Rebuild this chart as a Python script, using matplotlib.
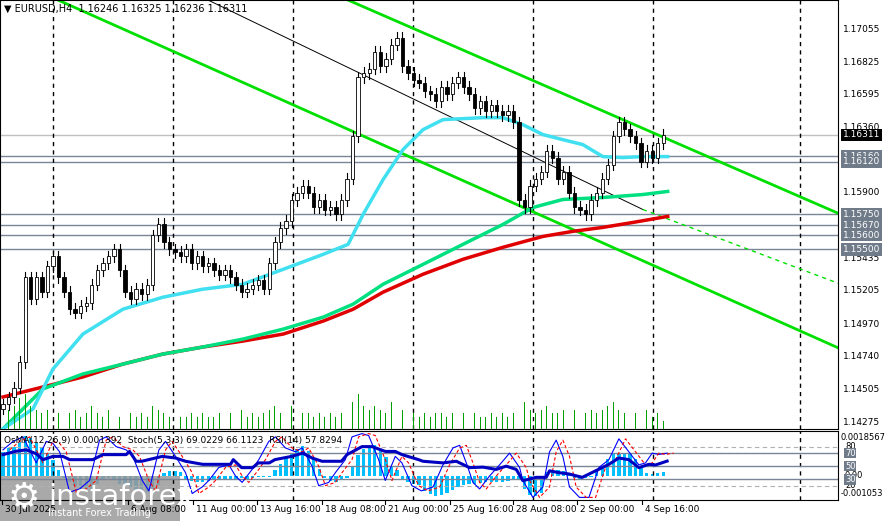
import numpy as np
import matplotlib.pyplot as plt
from matplotlib.patches import Rectangle

# --- dati ---
closes = [
    1.1440, 1.1445, 1.1452, 1.1470, 1.1530, 1.1515, 1.1530, 1.1520, 1.1538, 1.1545,
    1.1530, 1.1520, 1.1508, 1.1505, 1.1510, 1.1512, 1.1525, 1.1535, 1.1540, 1.1545,
    1.1550, 1.1535, 1.1520, 1.1515, 1.1522, 1.1518, 1.1525, 1.1560, 1.1568, 1.1555,
    1.1550, 1.1548, 1.1545, 1.1550, 1.1540, 1.1545, 1.1538, 1.1540, 1.1535, 1.1532,
    1.1535, 1.1530, 1.1525, 1.1520, 1.1522, 1.1525, 1.1528, 1.1522, 1.1540, 1.1555,
    1.1565, 1.1570, 1.1585, 1.1590, 1.1595, 1.1590, 1.1580, 1.1585, 1.1578, 1.1580,
    1.1575, 1.1585, 1.1600, 1.1630, 1.1672, 1.1675, 1.1678, 1.1690, 1.1680, 1.1685,
    1.1695, 1.1700, 1.1680, 1.1675, 1.1670, 1.1668, 1.1662, 1.1660, 1.1655, 1.1665,
    1.1660, 1.1668, 1.1672, 1.1665, 1.1660, 1.1650, 1.1655, 1.1648, 1.1652, 1.1648,
    1.1645, 1.1648, 1.1640, 1.1585, 1.1580, 1.1595, 1.1600, 1.1605, 1.1620, 1.1615,
    1.1600, 1.1605, 1.1590, 1.1580, 1.1578, 1.1575, 1.1585, 1.1590, 1.1600, 1.1610,
    1.1630, 1.1640, 1.1635, 1.1630, 1.1625, 1.1612, 1.1620, 1.1615, 1.1625, 1.1631,
]
volumes = [
    4, 5, 6, 8, 9, 6, 5, 4, 5, 6, 4, 3, 4, 5, 3, 4, 6, 4, 3, 5,
    4, 3, 5, 4, 3, 4, 3, 6, 5, 4, 3, 4, 3, 3, 4, 3, 4, 3, 3, 4,
    3, 4, 3, 5, 3, 4, 3, 4, 5, 6, 4, 5, 6, 5, 4, 4, 3, 4, 3, 4,
    3, 4, 5, 7, 9, 6, 5, 6, 5, 4, 7, 6, 5, 4, 4, 3, 4, 3, 4, 4,
    3, 4, 3, 4, 3, 4, 3, 3, 4, 3, 4, 3, 4, 10, 7, 5, 4, 5, 6, 4,
    4, 5, 4, 5, 4, 4, 5, 4, 5, 6, 7, 5, 4, 5, 4, 4, 5, 3, 4, 2,
]
ma_fast_bars = [0, 5.4, 9, 14.4, 21.6, 28.8, 36, 43.2, 50.5, 57.7, 62.2, 64.9, 68.5, 72.1, 75.7, 79.3, 86.5, 90.1, 93.7, 97.3, 100.9, 104.5, 108.1, 111.7, 115.3, 119.8]
ma_fast_vals = [1.14227, 1.14368, 1.14651, 1.14899, 1.15075, 1.15160, 1.15217, 1.15252, 1.15358, 1.15464, 1.15535, 1.15747, 1.15994, 1.16207, 1.16348, 1.16419, 1.16433, 1.16433, 1.16383, 1.16313, 1.16277, 1.16242, 1.16157, 1.16150, 1.16157, 1.16157]
ma_mid_bars = [0, 7.2, 14.4, 21.6, 28.8, 36, 43.2, 50.5, 57.7, 63.1, 68.5, 75.7, 82.9, 90.1, 95.5, 100.9, 108.1, 115.3, 119.8]
ma_mid_vals = [1.14227, 1.14510, 1.14616, 1.14686, 1.14757, 1.14807, 1.14863, 1.14934, 1.15019, 1.15111, 1.15252, 1.15393, 1.15535, 1.15676, 1.15796, 1.15853, 1.15867, 1.15888, 1.15910]
ma_slow_bars = [0, 7.2, 14.4, 21.6, 28.8, 36, 43.2, 50.5, 57.7, 63.1, 68.5, 75.7, 82.9, 90.1, 97.3, 102.7, 108.1, 113.5, 119.8]
ma_slow_vals = [1.14453, 1.14524, 1.14595, 1.14686, 1.14757, 1.14807, 1.14849, 1.14899, 1.14991, 1.15075, 1.15196, 1.15323, 1.15429, 1.15514, 1.15591, 1.15627, 1.15655, 1.15690, 1.15733]

levels_grey = [1.16160, 1.16120, 1.15750, 1.15670, 1.15600, 1.15500]
last_price = 1.16311
price_ticks = [1.17055, 1.16825, 1.16595, 1.16360, 1.15900, 1.15435, 1.15205, 1.14970, 1.14740, 1.14505, 1.14275]

osma = [
    11.5, 13.4, 13.9, 16.3, 19.2, 18.2, 15.8, 13.9, 11.0, 7.7,
    3.0, -1.0, -3.0, -5.0, -6.5, -7.0, -6.0, -4.0, -2.0, -1.0,
    -2.0, -4.0, -5.0, -5.5, -6.5, -7.5, -7.5, -6.5, -4.5, 1.5,
    2.5, 2.5, 2.0, -1.5, -2.5, -3.0, -3.0, -2.5, -2.0, -2.0,
    -1.5, -2.0, -1.5, -1.0, -1.5, -1.0, -0.5, -0.5, -0.5, 3.0,
    6.0, 9.0, 11.0, 13.0, 14.5, 12.0, 8.0, 3.5, -1.0, -2.5,
    -3.0, -2.0, -1.0, 5.0, 10.0, 13.0, 14.5, 15.0, 13.0, 9.0,
    5.0, 3.0, -1.5, -3.0, -4.0, -4.5, -7.0, -8.5, -9.5, -9.0,
    -8.0, -6.5, -5.5, -4.5, -4.0, -4.0, -3.5, -3.0, -3.0, -3.0,
    -3.0, -2.5, -2.0, -2.0, -6.0, -9.0, -9.5, -8.0, 2.0, 3.0,
    3.0, 2.5, 1.5, -1.0, -1.5, -1.0, -0.5, 2.0, 5.0, 8.0,
    10.5, 11.0, 11.0, 10.5, 8.0, 5.0, 1.5, 1.0, 1.5, 2.0,
]  # unita' 1e-4
stoch_bars = [0, 1.8, 3.6, 6, 7.8, 9, 10.2, 12, 13.8, 15.6, 17.4, 18.6, 20.4, 22.2, 23.4, 25.1,
              26.3, 28.1, 29.3, 31.1, 32.9, 34.1, 35.9, 37.1, 38.9, 40.7, 41.9, 43.1, 44.9, 46.1,
              47.9, 49.1, 50.9, 52.7, 53.9, 55.7, 56.9, 58.7, 59.9, 61.7, 62.9, 64.7, 65.9, 67.7,
              68.9, 70.7, 71.9, 73.7, 75.4,
              77.5, 79.3, 81.1, 82.3, 83.5, 84.7, 85.9, 87.7, 89.5, 91.3, 93.1, 93.7, 95.5, 97.3,
              98.5, 99.7, 100.9, 102.1, 103.9, 105.6, 107.4, 109.2, 111.0, 112.8, 114.6, 115.8,
              117.0, 118.2, 119.7]
stoch_vals = [75, 88, 95, 55, 88, 85, 72, 10, 15, 28, 90, 95, 80, 75, 65, 28, 12, 75, 88, 65,
              40, 8, 18, 28, 48, 52, 35, 25, 45, 60, 88, 95, 78, 72, 78, 50, 20, 25, 40, 60,
              95, 100, 97, 60, 28, 65, 55, 20, 12,
              18, 52, 78, 82, 55, 25, 15, 35, 52, 70, 48, 28, 2, 18, 72, 90, 65, 18, 2, 2, 48,
              60, 92, 72, 52, 55, 70, 68, 70]
rsi_bars = [0, 2.4, 4.2, 6, 7.2, 9, 10.8, 12, 16.2, 18, 22.2, 22.8, 24, 25, 28.7, 31.1, 32.9,
            36, 41, 41.5, 43, 45, 46, 48, 49, 52, 54, 55.7, 57.5, 61, 62, 64.7, 66.5, 68.9,
            70.7, 71.9, 74.9, 75.7, 79.3, 81.7, 84.1, 86.5, 88.9, 90.7, 92.5, 93.7, 96.1, 97.9,
            98.5, 100.2, 102, 104.4, 106.8, 109.2, 111, 112.8, 114.6, 116.4, 117.6, 119.7]
rsi_vals = [67.7, 73, 75, 69, 60, 65, 65, 60, 60, 67.7, 67.7, 72.6, 57.5, 57.5, 65, 62.5, 57.5,
            52.8, 52.8, 60, 47.7, 47.7, 55, 55, 60, 65, 70, 62.5, 57.5, 57.5, 67.7, 80, 80, 72.6,
            72.6, 67.7, 60, 57.5, 55, 57.5, 47.7, 48.5, 45, 50, 45, 27.7, 32.8, 32.8,
            42.8, 40, 38, 32.8, 42.8, 52.8, 62.5, 60, 47.7, 52.8, 51.8, 57.8]

date_ticks = ["30 Jul 2025", "6 Aug 08:00", "11 Aug 00:00", "13 Aug 16:00", "18 Aug 08:00",
              "21 Aug 00:00", "25 Aug 16:00", "28 Aug 08:00", "2 Sep 00:00", "4 Sep 16:00"]

PX = 5.55  # pixel per barra
def b(px):
    return px / PX

fig = plt.figure(figsize=(8.87, 5.21), dpi=100)
W, H = 887, 521
ax = fig.add_axes([0, 1 - 429 / H, 838 / W, 429 / H])
ai = fig.add_axes([0, 1 - 500 / H, 838 / W, 69 / H])
xl = (b(-3), b(838) - 0.5)
ymin, ymax = 1.14226, 1.17267
FS = 6.5

# volumi
av = ax.twinx()
av.bar(np.arange(len(volumes)), volumes, width=0.15, color='#00a000')
av.set_ylim(0, 110)
av.axis('off')

# linee orizzontali
for lv in levels_grey:
    ax.axhline(lv, color='#7a8598', lw=1)
ax.axhline(last_price, color='#c0c0c0', lw=1)

vlines = [50, 170, 290, 410, 530, 650, 797]
for v in vlines:
    ax.axvline(b(v), color='black', ls=(0, (3, 3)), lw=1)
    ai.axvline(b(v), color='black', ls=(0, (3, 3)), lw=1)

# canale
ax.plot([b(345), b(838)], [ymax, 1.15747], color='#00e000', lw=2)
ax.plot([b(55), b(838)], [ymax, 1.14793], color='#00e000', lw=2)
ax.plot([b(205), b(640)], [ymax, 1.15782], color='black', lw=0.7)
ax.plot([b(640), b(838)], [1.15782, 1.15252], color='#00e000', lw=1, ls=(0, (3, 3)))

# medie mobili
ax.plot(ma_slow_bars, ma_slow_vals, color='#e00000', lw=2.5, zorder=3)
ax.plot(ma_mid_bars, ma_mid_vals, color='#00e080', lw=2.5, zorder=3)
ax.plot(ma_fast_bars, ma_fast_vals, color='#40e0f0', lw=2.5, zorder=3)

# candele
opens = [closes[0] - 0.0003] + closes[:-1]
for i, (o, c) in enumerate(zip(opens, closes)):
    hi, lo = max(o, c) + 0.0004, min(o, c) - 0.0004
    ax.plot([i, i], [lo, hi], color='black', lw=0.8, zorder=4)
    bot = min(o, c)
    h = max(abs(c - o), 0.00003)
    ax.add_patch(Rectangle((i - 0.3, bot), 0.6, h, facecolor='white' if c >= o else 'black',
                           edgecolor='black', lw=0.6, zorder=5))

ax.set_xlim(*xl)
ax.set_ylim(ymin, ymax)
ax.set_xticks([]); ax.set_yticks([])
av.set_xlim(*xl)

def fy(p):
    return (p - ymin) / (ymax - ymin) * (429 / H) + 1 - 429 / H

for t in price_ticks:
    fig.text(843 / W, fy(t), f'{t:.5f}', fontsize=FS, va='center', ha='left')
for lv in levels_grey:
    fig.text(843 / W, fy(lv), f'{lv:.5f}', fontsize=FS, va='center', ha='left', color='white',
             bbox=dict(boxstyle='square,pad=0.2', fc='#707b8a', ec='none'))
fig.text(843 / W, fy(last_price), f'{last_price:.5f}', fontsize=FS, va='center', ha='left',
         color='white', bbox=dict(boxstyle='square,pad=0.2', fc='black', ec='none'))
fig.text(4 / W, 1 - 9 / H, '▼ EURUSD,H4  1.16246 1.16325 1.16236 1.16311', fontsize=7, va='center')

# pannello indicatori
ai.set_xlim(*xl)
ai.set_ylim(-2, 104)
for lv in [70, 50, 30]:
    ai.axhline(lv, color='#7a8598', lw=1)
for lv in [80, 20]:
    ai.axhline(lv, color='#b0b0b0', lw=0.8, ls=(0, (4, 3)))
am = ai.twinx()
am.bar(np.arange(len(osma)), osma, width=0.6, color='#00bfff')
am.set_ylim(-11.5, 21.6)
am.axis('off')
am.set_xlim(*xl)
ai.set_zorder(am.get_zorder() + 1)
ai.patch.set_visible(False)
ai.plot(stoch_bars, stoch_vals, color='#0000ff', lw=0.8)
ai.plot(np.array(stoch_bars) + 1.2, stoch_vals, color='red', lw=0.8, ls=(0, (3, 2)))
ai.plot(rsi_bars, rsi_vals, color='#0000c0', lw=2.2)
ai.set_xticks([]); ai.set_yticks([])
ai.text(0.005, 0.86, 'OsMA(12,26,9) 0.0001392  Stoch(5,3,3) 69.0229 66.1123  RSI(14) 57.8294',
        transform=ai.transAxes, fontsize=FS, va='center')

def iy(v):
    return (v + 2) / 106 * (69 / H) + 1 - 500 / H

fig.text(841 / W, 1 - 438 / H, '0.0018567', fontsize=6, va='center')
fig.text(841 / W, 1 - 494 / H, '-0.001053', fontsize=6, va='center')
fig.text(845 / W, 1 - 475 / H, '0.00', fontsize=6, va='center')
for lv in [80, 20]:
    fig.text(845 / W, iy(lv), str(lv), fontsize=6, va='center')
for lv in [70, 50, 30]:
    fig.text(845 / W, iy(lv), str(lv), fontsize=6, va='center', color='white',
             bbox=dict(boxstyle='square,pad=0.1', fc='#707b8a', ec='none'))

# asse date
tick_px = [2, 128, 193, 257, 322, 385, 450, 513, 577, 642]
for px, lab in zip(tick_px, date_ticks):
    fig.text((px + 3) / W, 1 - 509 / H, lab, fontsize=FS, va='center')
    fig.add_artist(plt.Line2D([px / W, px / W], [1 - 500 / H, 1 - 504 / H], color='black', lw=0.8))

# logo
fig.add_artist(Rectangle((0, 0), 180 / W, 45 / H, transform=fig.transFigure, fc='#9a9a9a', ec='none', alpha=0.85))
fig.text(8 / W, 24 / H, '⚙', fontsize=26, color='white', va='center')
fig.text(48 / W, 24 / H, 'instaforex', fontsize=21, color='white', va='center')
fig.text(48 / W, 8 / H, 'Instant Forex Trading', fontsize=7, color='white', va='center')

fig.savefig('out.png', dpi=100)
